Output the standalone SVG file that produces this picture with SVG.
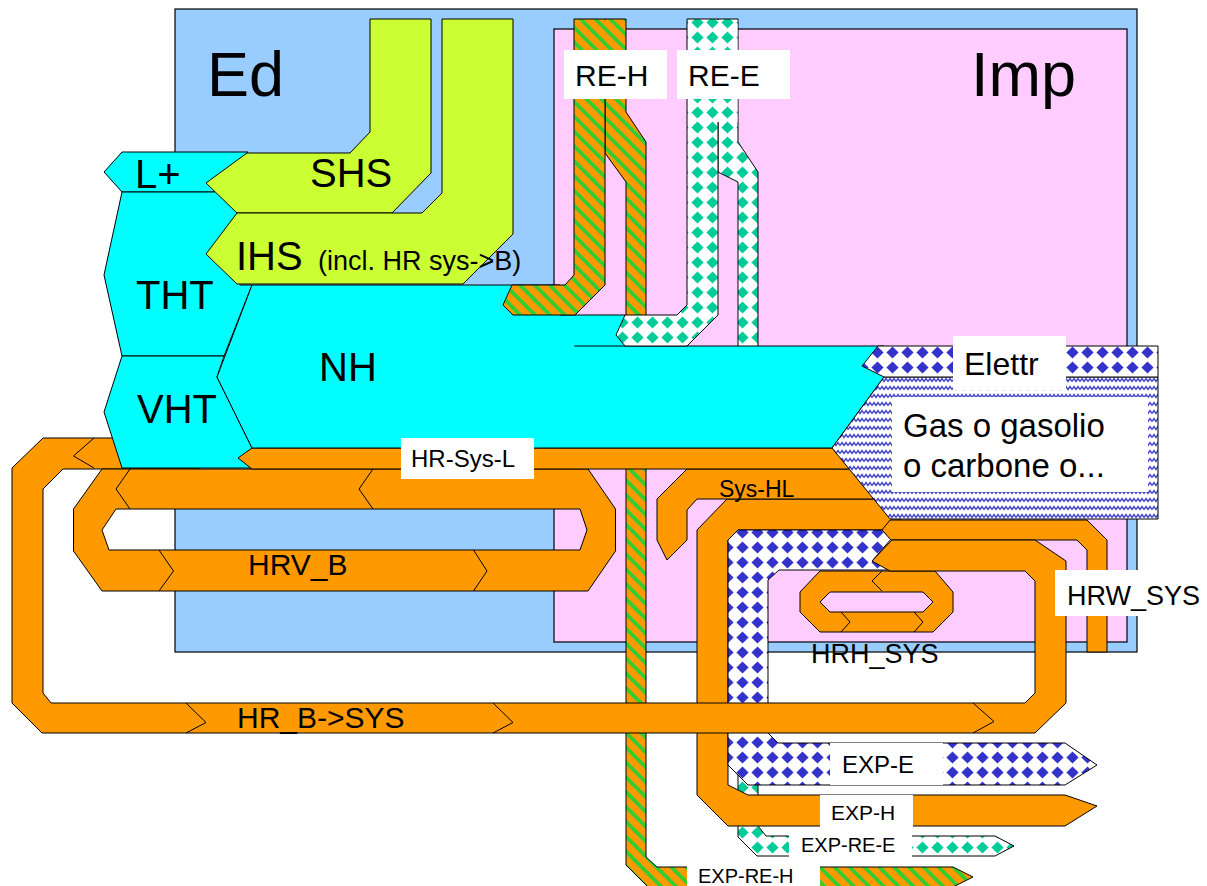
<svg xmlns="http://www.w3.org/2000/svg" width="1207" height="886" viewBox="0 0 1207 886">
<style>
.bgB{fill:#99CCFF;stroke:#000;stroke-width:1.2}
.bgP{fill:#FFCCFF;stroke:#000;stroke-width:1.2}
.c{fill:#00FFFF;stroke:#000;stroke-width:1}
.y{fill:#CCFF33;stroke:#000;stroke-width:1}
.o{fill:#FF9900;stroke:#000;stroke-width:1}
.st{fill:url(#stripe);stroke:#000;stroke-width:1}
.dt{fill:url(#dTeal);stroke:#000;stroke-width:1}
.db{fill:url(#dBlue);stroke:#000;stroke-width:1}
.wv{fill:url(#wave);stroke:#000;stroke-width:1}
.ch{fill:none;stroke:#000;stroke-width:1}
.lb{fill:#fff}
.t{font-family:"Liberation Sans",Arial,Helvetica,sans-serif;fill:#000}
</style>
<defs>
<pattern id="stripe" width="10.5" height="10.5" patternUnits="userSpaceOnUse" patternTransform="rotate(45)">
<rect width="10.5" height="10.5" fill="#FF9900"/>
<rect width="10.5" height="3.8" fill="#33CC33"/>
</pattern>
<pattern id="dTeal" width="15" height="15" patternUnits="userSpaceOnUse">
<rect width="15" height="15" fill="#fff"/>
<path d="M7.5,1.4 L13.6,7.5 L7.5,13.6 L1.4,7.5Z" fill="#00CC99"/>
</pattern>
<pattern id="dBlue" width="15" height="15" patternUnits="userSpaceOnUse">
<rect width="15" height="15" fill="#fff"/>
<path d="M7.5,1.4 L13.6,7.5 L7.5,13.6 L1.4,7.5Z" fill="#3333CC"/>
</pattern>
<pattern id="wave" width="8" height="8" patternUnits="userSpaceOnUse">
<rect width="8" height="8" fill="#fff"/>
<path d="M0,5.5 L2,2.5 L4,5.5 L6,2.5 L8,5.5" fill="none" stroke="#4646CC" stroke-width="1.5"/>
</pattern>
</defs>

<g id="Ed"><rect class="bgB" x="175" y="9" width="962" height="643"/></g>
<g id="Imp"><rect class="bgP" x="554" y="29" width="573" height="613"/></g>

<g id="connectors">
  <g id="RE-H-strip"><polygon class="st" points="605,19 626,19 626,112 646,142 646,857 657,867 953,867 973,877 953,887 648,887 626,865 626,182 605,153"/></g>
  <g id="RE-E-strip"><polygon class="dt" points="718,19 738,19 738,142 758,172 758,826 766,836 995,836 1014,846 995,856 757,856 738,837 738,182 718,172"/></g>

  <g id="EXP-H-band"><polygon class="o" points="727,499 900,499 900,530 738,530 728,540 728,785 748,795 1065,795 1097,806 1065,826 728,826 697,795 697,530"/></g>
  <g id="Sys-HL-band"><polygon class="o" points="687,469 900,469 900,499 697,499 687,510 687,540 667,560 657,540 657,499"/></g>
  <g id="EXP-E-band"><polygon class="db" points="738,530 882,530 891,539 873,560 890,570 779,570 768,580 768,733 778,743 1065,743 1097,765 1065,785 748,785 728,765 728,540"/></g>
  <g id="HRW-band"><polygon class="o" points="890,520 1087,520 1107,540 1107,652 1087,652 1087,550 1077,540 891,540 882,530"/></g>
  <g id="HRH-ring">
    <path class="o" fill-rule="evenodd" d="M820,571 L935,571 L953,592 L953,612 L933,632 L820,632 L800,612 L800,592 Z M830,592 L923,592 L933,602 L923,612 L830,612 L820,602 Z"/>
    <polyline class="ch" points="882,571 872,581 882,591"/>
    <polyline class="ch" points="841,612 850,622 841,632"/>
    <polyline class="ch" points="914,612 923,622 914,632"/>
  </g>
  <g id="HR_B-SYS-loop">
    <polygon class="o" points="200,438 43,438 12,468 12,703 42,733 1035,733 1066,703 1066,561 1035,540 892,540 872,561 890,571 1025,571 1035,581 1035,693 1025,703 51,703 43,693 43,489 63,469 200,469"/>
    <polyline class="ch" points="94,438 73.5,456 94,468"/>
    <polyline class="ch" points="186,703 206,722.5 186,733"/>
    <polyline class="ch" points="493,703 513,722.5 493,733"/>
    <polyline class="ch" points="973,703 994,721.5 973,733"/>
  </g>
  <g id="HRV_B-ring">
    <path class="o" fill-rule="evenodd" d="M102,469 L588,469 L615.5,509 L615.5,551 L588,591 L102,591 L73.5,551 L73.5,509 Z M116,509 L580,509 L587,530 L580,550 L109,550 L102,530 Z"/>
    <polyline class="ch" points="130,469 116,489 130,509"/>
    <polyline class="ch" points="373,469 359,489 373,509"/>
    <polyline class="ch" points="159,550 173.5,571 159,591"/>
    <polyline class="ch" points="473.5,550 487,571 473.5,591"/>
  </g>
</g>

<g id="L-plus"><polygon class="c" points="122,152 248,152 215,192 122,192 104,172"/></g>
<g id="THT"><polygon class="c" points="122,192 240,192 240,285 252,285 224,356 122,356 104,275"/></g>
<g id="VHT"><polygon class="c" points="122,356 224,356 217,377 252,448 252,468 122,468 104,412"/></g>
<g id="SHS"><polygon class="y" points="370,19 431,19 431,173 392,213 237,213 206,183 247,153 350,153 370,132"/></g>
<g id="IHS"><polygon class="y" points="442,19 513,19 513,234 463,284 237,284 206,254 237,213 422,213 442,193"/></g>

<g id="HR-Sys-L-band"><polygon class="o" points="252,448 900,448 900,469 252,469 238,458"/></g>

<g id="NH">
  <polygon class="c" points="252,285 560,285 560,315 625,315 625,346 884,346 884,377 832,448 252,448 217,377"/>
  <line x1="574" y1="346" x2="626" y2="346" stroke="#000" stroke-width="1"/>
</g>

<g id="RE-H-arm">
  <polygon class="st" points="574,19 605,19 605,285 575,315 513,315 503,305 512,285 565,285 574,275"/>
  <rect x="575" y="20" width="50" height="40" fill="url(#stripe)"/>
</g>
<g id="RE-E-arm">
  <polygon class="dt" points="687,19 718,19 718,315 687,346 625,346 616,335 625,315 677,315 687,305"/>
  <rect x="688" y="20" width="49.5" height="102" fill="url(#dTeal)"/>
</g>

<g id="Gas"><polygon class="wv" points="884,377 1158,377 1158,519 890,519 832,448"/></g>
<g id="Elettr"><polygon class="db" points="878,346 1158,346 1158,377 884,377 862,366"/></g>

<g id="labels">
  <text class="t" x="207" y="96" font-size="63">Ed</text>
  <text class="t" x="971" y="96" font-size="63">Imp</text>
  <text class="t" x="135" y="188" font-size="40">L+</text>
  <text class="t" x="310" y="187" font-size="40">SHS</text>
  <text class="t" x="236" y="270" font-size="40">IHS</text>
  <text class="t" x="318" y="270" font-size="27">(incl. HR sys-&gt;B)</text>
  <text class="t" x="136" y="309" font-size="40">THT</text>
  <text class="t" x="137" y="423" font-size="40">VHT</text>
  <text class="t" x="319" y="381" font-size="40">NH</text>

  <rect class="lb" x="564" y="50" width="103" height="49"/>
  <text class="t" x="575" y="86" font-size="30">RE-H</text>
  <rect class="lb" x="677" y="50" width="113" height="49"/>
  <text class="t" x="688" y="86" font-size="30">RE-E</text>

  <rect class="lb" x="953" y="336" width="113" height="54"/>
  <text class="t" x="964" y="375" font-size="32">Elettr</text>
  <rect class="lb" x="892" y="397" width="256" height="95"/>
  <text class="t" x="903" y="437" font-size="33">Gas o gasolio</text>
  <text class="t" x="903" y="477" font-size="33">o carbone o...</text>

  <rect class="lb" x="401" y="438" width="133" height="41"/>
  <text class="t" x="411" y="467" font-size="24">HR-Sys-L</text>
  <text class="t" x="719" y="497" font-size="23">Sys-HL</text>
  <text class="t" x="248" y="575" font-size="30">HRV_B</text>
  <text class="t" x="237" y="728" font-size="30">HR_B-&gt;SYS</text>
  <text class="t" x="811" y="663" font-size="27">HRH_SYS</text>
  <rect class="lb" x="1055" y="570" width="152" height="46"/>
  <text class="t" x="1067" y="605" font-size="27">HRW_SYS</text>

  <rect class="lb" x="830" y="743" width="113" height="42"/>
  <text class="t" x="842" y="773" font-size="24">EXP-E</text>
  <rect class="lb" x="820" y="795" width="93" height="32"/>
  <text class="t" x="831" y="820" font-size="21">EXP-H</text>
  <rect class="lb" x="789" y="827" width="123" height="30"/>
  <text class="t" x="801" y="852" font-size="20">EXP-RE-E</text>
  <rect class="lb" x="687" y="863" width="133" height="23"/>
  <text class="t" x="698" y="883" font-size="20">EXP-RE-H</text>
</g>
</svg>
